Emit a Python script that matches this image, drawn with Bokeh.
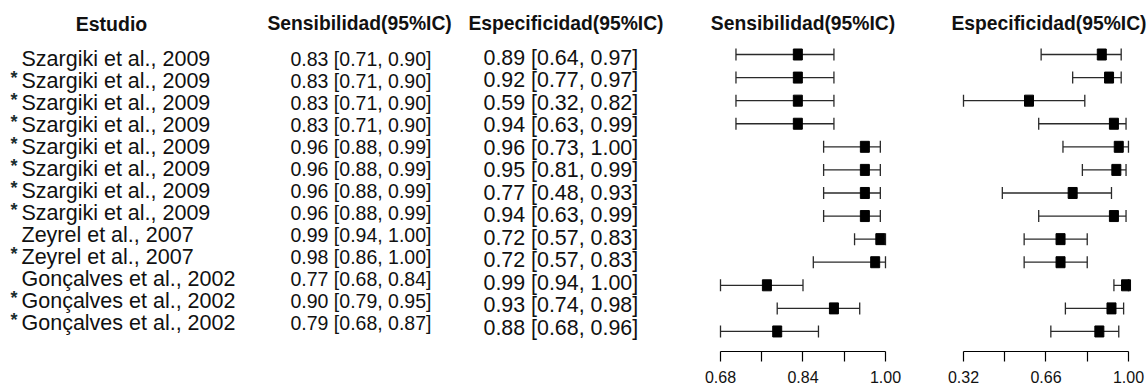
from bokeh.plotting import figure
from bokeh.layouts import row
from bokeh.models import (ColumnDataSource, Range1d, Whisker, TeeHead, FixedTicker,
                          PrintfTickFormatter)
from bokeh.core.properties import value
from bokeh.embed import file_html
from bokeh.resources import INLINE

# ---------------- data ----------------
studies = ["Szargiki et al., 2009", "Szargiki et al., 2009", "Szargiki et al., 2009",
           "Szargiki et al., 2009", "Szargiki et al., 2009", "Szargiki et al., 2009",
           "Szargiki et al., 2009", "Szargiki et al., 2009", "Zeyrel et al., 2007",
           "Zeyrel et al., 2007", "Gonçalves et al., 2002", "Gonçalves et al., 2002",
           "Gonçalves et al., 2002"]
starred = [False, True, True, True, True, True, True, True, False, True, False, True, True]
sens = [0.83, 0.83, 0.83, 0.83, 0.96, 0.96, 0.96, 0.96, 0.99, 0.98, 0.77, 0.90, 0.79]
sens_lo = [0.71, 0.71, 0.71, 0.71, 0.88, 0.88, 0.88, 0.88, 0.94, 0.86, 0.68, 0.79, 0.68]
sens_hi = [0.90, 0.90, 0.90, 0.90, 0.99, 0.99, 0.99, 0.99, 1.00, 1.00, 0.84, 0.95, 0.87]
spec = [0.89, 0.92, 0.59, 0.94, 0.96, 0.95, 0.77, 0.94, 0.72, 0.72, 0.99, 0.93, 0.88]
spec_lo = [0.64, 0.77, 0.32, 0.63, 0.73, 0.81, 0.48, 0.63, 0.57, 0.57, 0.94, 0.74, 0.68]
spec_hi = [0.97, 0.97, 0.82, 0.99, 1.00, 0.99, 0.93, 0.99, 0.83, 0.83, 1.00, 0.98, 0.96]

sens_ticks = [0.68, 0.84, 1.00]
sens_minor_ticks = [0.76, 0.92]
spec_ticks = [0.32, 0.66, 1.00]
spec_minor_ticks = [0.49, 0.83]

col_headers = ["Estudio", "Sensibilidad(95%IC)", "Especificidad(95%IC)"]

# ---------------- layout constants ----------------
H = 385
FRAME_H = 351          # plot frames are aligned across the row (axis below takes the rest)
W_TABLE, W_SENS, W_SPEC = 690, 235, 223
FONT = value("Liberation Sans")
rows_idx = list(range(len(studies)))


def flipped(top_px, step_px, height=FRAME_H):
    return Range1d(start=(height - top_px) / step_px, end=-top_px / step_px)


# ---------------- table (text) figure ----------------
NAME_TOP, NAME_STEP = 58.5, 22
pt = figure(width=W_TABLE, height=H, output_backend="svg", toolbar_location=None,
            x_range=Range1d(0, W_TABLE), y_range=flipped(NAME_TOP, NAME_STEP),
            x_axis_location=None, y_axis_location=None, min_border=0)
pt.extra_y_ranges = {"spec": flipped(57, 22.5)}
pt.grid.visible = False
pt.outline_line_color = None

HDR_ROW = (23 - NAME_TOP) / NAME_STEP
tsrc = ColumnDataSource(dict(
    y=rows_idx,
    name=studies,
    star=["*" if s else "" for s in starred],
    sens_txt=[f"{v:.2f} [{lo:.2f}, {hi:.2f}]" for v, lo, hi in zip(sens, sens_lo, sens_hi)],
    spec_txt=[f"{v:.2f} [{lo:.2f}, {hi:.2f}]" for v, lo, hi in zip(spec, spec_lo, spec_hi)],
))
pt.text(x=21, y="y", text="name", source=tsrc, text_font=FONT, text_font_size="21.5px",
        text_baseline="middle", text_align="left", text_color="#111111")
pt.text(x=10, y="y", text="star", source=tsrc, text_font=FONT, text_font_size="18px",
        text_font_style="bold", text_baseline="middle", text_align="left",
        text_color="#1a2e2e", y_offset=-3)
pt.text(x=290, y="y", text="sens_txt", source=tsrc, text_font=FONT, text_font_size="19.5px",
        text_baseline="middle", text_align="left", text_color="#111111")
pt.text(x=483, y="y", text="spec_txt", source=tsrc, text_font=FONT, text_font_size="21.4px",
        text_baseline="middle", text_align="left", text_color="#111111", y_range_name="spec")
pt.text(x=[111], y=[HDR_ROW], text=[col_headers[0]], text_font=FONT, text_font_size="19.5px",
        text_font_style="bold", text_baseline="middle", text_align="center", text_color="#111111")
pt.text(x=[267, 468], y=[HDR_ROW, HDR_ROW], text=col_headers[1:], text_font=FONT,
        text_font_size="19.3px", text_font_style="bold", text_baseline="middle",
        text_align="left", text_color="#111111")


# ---------------- forest panels ----------------
def forest(width, x_left_val, px_per_unit, origin_px, est, lo, hi, ticks, minor, title,
           title_shift_px):
    x_start = x_left_val - origin_px / px_per_unit
    x_end = x_start + width / px_per_unit
    top, step = 54, 23.08
    p = figure(width=width, height=H, output_backend="svg", toolbar_location=None,
               x_range=Range1d(x_start, x_end), y_range=flipped(top, step),
               y_axis_location=None, min_border=0)
    p.grid.visible = False
    p.outline_line_color = None
    src = ColumnDataSource(dict(y=rows_idx, est=est, lo=lo, hi=hi))
    wh = Whisker(base="y", lower="lo", upper="hi", dimension="width", source=src,
                 line_color="#2a2a2a", line_width=1.3,
                 lower_head=TeeHead(size=12, line_color="#2a2a2a", line_width=1.3),
                 upper_head=TeeHead(size=12, line_color="#2a2a2a", line_width=1.3))
    p.add_layout(wh)
    p.rect(x="est", y="y", width=9, height=11, width_units="screen", height_units="screen",
           source=src, fill_color="black", line_color="black")
    mid = (ticks[0] + ticks[-1]) / 2 + title_shift_px / px_per_unit
    p.text(x=[mid], y=[(23 - top) / step], text=[title], text_font=FONT,
           text_font_size="19.3px", text_font_style="bold", text_baseline="middle",
           text_align="center", text_color="#111111")
    ax = p.xaxis[0]
    ax.ticker = FixedTicker(ticks=ticks, minor_ticks=minor)
    ax.formatter = PrintfTickFormatter(format="%.2f")
    ax.bounds = (ticks[0], ticks[-1])
    ax.major_tick_in = 0
    ax.major_tick_out = 10
    ax.minor_tick_in = 0
    ax.minor_tick_out = 10
    ax.axis_line_color = "black"
    ax.major_tick_line_color = "black"
    ax.minor_tick_line_color = "black"
    ax.axis_line_width = 1.2
    ax.major_tick_line_width = 1.2
    ax.minor_tick_line_width = 1.2
    ax.major_label_text_font = "Liberation Sans"
    ax.major_label_text_font_size = "16px"
    ax.major_label_text_color = "#111111"
    ax.major_label_standoff = 9
    return p


ps = forest(W_SENS, 0.68, 515.6, 720 - W_TABLE, sens, sens_lo, sens_hi,
            sens_ticks, sens_minor_ticks, col_headers[1], 0)
pp = forest(W_SPEC, 0.32, 242.6, 963 - W_TABLE - W_SENS, spec, spec_lo, spec_hi,
            spec_ticks, spec_minor_ticks, col_headers[2], 3)

layout = row(pt, ps, pp, spacing=0)
open("out.html", "w").write(file_html(layout, INLINE))
